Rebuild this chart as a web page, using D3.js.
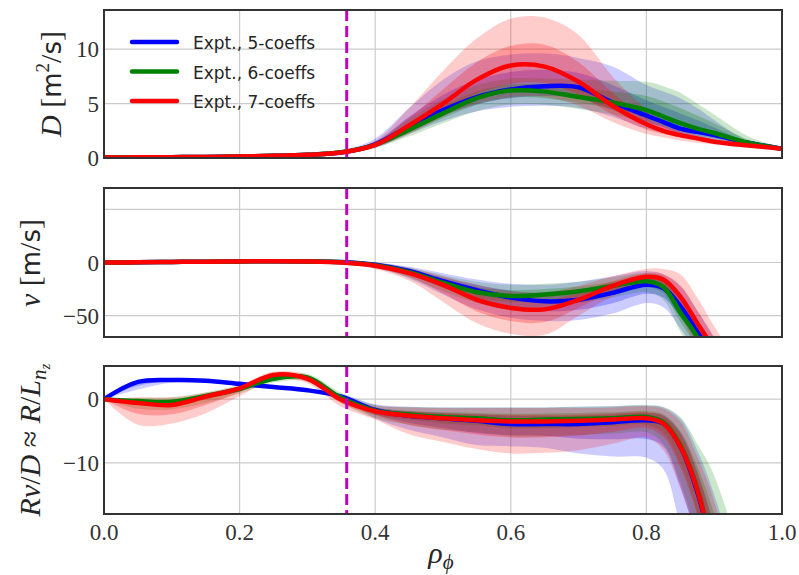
<!DOCTYPE html>
<html><head><meta charset="utf-8">
<script src="https://cdn.jsdelivr.net/npm/d3@7"></script>
<style>body{margin:0;background:#fff}</style>
</head><body><svg id="c" width="799" height="575"></svg>
<script>
// ---------- data ----------
const rho = [0, .05, .1, .15, .2, .25, .3, .35, .4, .45, .5, .55, .6, .65, .7, .75, .8, .825, .85, .875, .9, .95, 1];
const seriesNames = ["Expt., 5-coeffs", "Expt., 6-coeffs", "Expt., 7-coeffs"];
const seriesColors = ["#0000ff", "#008000", "#ff0000"];
const rhoMark = 0.358;

// Panel 1: D [m^2/s]
const D_b     = [0.05,0.06,0.08,0.1,0.14,0.2,0.3,0.5,1.25,2.9,4.4,5.6,6.3,6.6,6.5,5.1,3.9,3.3,2.7,2.4,2.1,1.4,0.85];
const D_b_oh  = [0.07,0.08,0.1,0.13,0.18,0.26,0.4,0.7,1.8,4.6,7.2,8.9,9.5,9.6,9.2,8.4,6.7,6.1,5.5,4.6,3.5,1.6,0.95];
const D_b_ol  = [0.04,0.05,0.06,0.08,0.11,0.16,0.24,0.4,0.9,2.2,3.4,4.3,4.7,4.8,4.6,3.8,2.7,2.3,1.9,1.7,1.5,1.1,0.8];
const D_b_ih  = [0.06,0.07,0.09,0.115,0.16,0.23,0.35,0.6,1.5,3.8,5.8,7.2,7.9,8.1,7.8,6.7,5.3,4.7,4.1,3.5,2.8,1.5,0.9];
const D_b_il  = [0.045,0.055,0.07,0.09,0.125,0.18,0.27,0.45,1.07,2.55,3.9,4.95,5.5,5.7,5.5,4.4,3.3,2.8,2.3,2.05,1.8,1.25,0.82];
const D_g     = [0.05,0.06,0.08,0.1,0.14,0.2,0.3,0.52,1.2,2.6,4.1,5.5,6.2,6.1,5.6,5.1,4.4,3.8,3.2,2.7,2.3,1.4,0.85];
const D_g_oh  = [0.07,0.08,0.1,0.13,0.18,0.26,0.38,0.65,1.5,3.6,5.4,6.7,7.3,7.3,7.2,7.1,7.0,6.6,6.0,5.0,4.0,2.0,0.95];
const D_g_ol  = [0.04,0.05,0.06,0.08,0.11,0.16,0.24,0.42,0.95,2.0,3.2,4.3,4.9,4.9,4.5,4.0,3.3,2.9,2.4,2.0,1.6,1.1,0.8];
const D_g_ih  = [0.06,0.07,0.09,0.115,0.16,0.23,0.34,0.58,1.35,3.1,4.75,6.1,6.75,6.7,6.4,6.1,5.7,5.2,4.6,3.9,3.2,1.7,0.9];
const D_g_il  = [0.045,0.055,0.07,0.09,0.125,0.18,0.27,0.47,1.07,2.3,3.65,4.9,5.55,5.5,5.05,4.55,3.85,3.35,2.8,2.35,1.95,1.25,0.82];
const D_r     = [0.05,0.06,0.08,0.1,0.14,0.2,0.3,0.5,1.2,3.0,5.0,7.2,8.5,8.4,7.0,4.8,3.1,2.5,2.1,1.8,1.5,1.15,0.85];
const D_r_oh  = [0.07,0.08,0.1,0.13,0.18,0.26,0.38,0.65,1.6,4.6,8.0,11.0,12.8,12.9,11.3,7.5,4.5,3.4,2.6,2.1,1.7,1.25,0.9];
const D_r_ol  = [0.04,0.05,0.06,0.08,0.11,0.16,0.24,0.42,1.0,2.2,3.8,5.0,5.6,5.6,4.8,3.3,2.2,1.9,1.6,1.4,1.25,1.0,0.8];
const D_r_ih  = [0.06,0.07,0.09,0.11,0.16,0.23,0.34,0.58,1.4,3.7,6.3,8.8,10.3,10.4,8.8,6.0,3.7,3.0,2.4,2.0,1.6,1.2,0.87];
const D_r_il  = [0.045,0.055,0.07,0.09,0.12,0.18,0.27,0.46,1.1,2.6,4.3,5.9,6.8,6.9,5.8,4.0,2.6,2.2,1.85,1.6,1.4,1.08,0.83];

// Panel 2: v [m/s]
const V_b     = [0,0.2,0.5,0.8,1.0,1.2,1.0,0.5,-2,-8,-17.6,-26,-33,-36.5,-35,-28.5,-20.8,-24,-41,-65,-90,-150,-200];
const V_b_oh  = [1,1.2,1.5,1.8,2,2.2,2,1.5,0,-4,-10,-16,-20,-21,-18,-13,-8,-11,-22,-45,-70,-130,-190];
const V_b_ol  = [-1,-0.8,-0.5,-0.2,0,0.2,0,-1.5,-5,-15,-30,-44,-52,-55,-54,-48,-38,-42,-62,-85,-110,-170,-220];
const V_b_ih  = [0.5,0.7,1,1.3,1.5,1.7,1.5,1,-1,-6,-13.8,-21,-26.5,-28.8,-26.5,-20.8,-14.4,-17.5,-31.5,-55,-80,-140,-195];
const V_b_il  = [-0.5,-0.3,0,0.3,0.5,0.7,0.5,-0.5,-3.5,-11.5,-23.8,-35,-42.5,-45.8,-44.5,-38.3,-29.4,-33,-51.5,-75,-100,-160,-210];
const V_g     = [0,0.2,0.5,0.8,1.0,1.2,1.0,0.3,-2.5,-9,-19,-28,-31.5,-30,-27,-22,-17.6,-23,-47,-70,-105,-170,-220];
const V_g_oh  = [1,1.2,1.5,1.8,2,2.2,2,1.5,0,-5,-12,-18,-21,-20,-18,-14,-10,-13,-30,-55,-85,-150,-200];
const V_g_ol  = [-1,-0.8,-0.5,-0.2,0,0.2,0,-1.5,-5.5,-14,-27,-38,-43,-41,-38,-33,-28,-35,-65,-90,-125,-190,-240];
const V_g_ih  = [0.5,0.7,1,1.3,1.5,1.7,1.5,0.9,-1.2,-7,-15.5,-23,-26,-25,-22.5,-18,-13.8,-18,-38.5,-62.5,-95,-160,-210];
const V_g_il  = [-0.5,-0.3,0,0.3,0.5,0.7,0.5,-0.6,-4,-11.5,-23,-33,-37,-35.5,-32.5,-27.5,-22.8,-29,-56,-80,-115,-180,-230];
const V_r     = [0,0.2,0.5,0.8,1.0,1.2,1.0,0.0,-3,-10,-21,-35,-42.7,-44,-35,-22,-13.5,-16,-32,-57,-82,-140,-200];
const V_r_oh  = [1,1.2,1.5,1.8,2,2.2,2,1.5,0,-5,-13,-21,-27,-28,-22,-13,-6,-6,-11,-33,-60,-110,-170];
const V_r_ol  = [-1,-0.8,-0.5,-0.2,0,0.2,0,-1.5,-6,-17,-37,-57,-67,-68,-50,-32,-22,-27,-50,-80,-105,-170,-230];
const V_r_ih  = [0.5,0.7,1,1.3,1.5,1.7,1.5,0.8,-1.5,-7.5,-17,-28,-35,-36,-28.5,-17.5,-9.8,-11,-21.5,-45,-71,-125,-185];
const V_r_il  = [-0.5,-0.3,0,0.3,0.5,0.7,0.5,-0.8,-4.5,-13.5,-29,-46,-55,-56,-42.5,-27,-17.8,-21.5,-41,-68.5,-93.5,-155,-215];

// Panel 3: Rv/D ~ R/L_nz
const G_b     = [0,2.7,3.0,2.9,2.4,1.9,1.4,0.4,-1.7,-2.6,-3.0,-3.4,-3.9,-3.9,-3.9,-3.6,-3.3,-3.8,-7.4,-14.5,-25,-50,-80];
const G_b_oh  = [0,2.9,3.2,3.1,2.6,2.1,1.6,0.8,-0.8,-1.2,-1.3,-1.3,-1.3,-1.3,-1.2,-1.1,-1.0,-1.3,-3.0,-8,-15,-34,-70];
const G_b_ol  = [0,1.5,2.6,2.6,2.2,1.7,1.2,0.0,-3.0,-4.8,-6.0,-7.2,-7.4,-7.6,-8.5,-9.0,-9.2,-11,-20,-30,-40,-65,-95];
const G_b_ih  = [0,2.8,3.1,3.0,2.5,2.0,1.5,0.6,-1.25,-1.9,-2.15,-2.35,-2.6,-2.6,-2.55,-2.35,-2.15,-2.55,-5.2,-11.3,-20,-42,-75];
const G_b_il  = [0,2.1,2.8,2.75,2.3,1.8,1.3,0.2,-2.35,-3.7,-4.5,-5.3,-5.65,-5.75,-6.2,-6.3,-6.25,-7.4,-13.7,-22.3,-32.5,-57,-87];
const G_g     = [0,-0.3,-0.4,0.5,1.6,3.2,3.4,0.2,-1.8,-2.4,-2.8,-3.0,-3.3,-3.2,-3.1,-3.0,-2.8,-3.6,-7.2,-14.0,-25,-50,-80];
const G_g_oh  = [0,0.2,0.3,1.1,2.2,3.8,4.0,1.0,-0.9,-1.2,-1.3,-1.3,-1.3,-1.3,-1.2,-1.1,-0.9,-1.2,-2.8,-7,-12,-30,-65];
const G_g_ol  = [0,-1.5,-1.6,-0.6,0.9,2.6,2.8,-0.6,-3.0,-4.0,-4.8,-5.2,-5.8,-5.8,-5.6,-5.4,-5.2,-7,-13,-22,-35,-62,-95];
const G_g_ih  = [0,-0.05,-0.05,0.8,1.9,3.5,3.7,0.6,-1.35,-1.8,-2.05,-2.15,-2.3,-2.25,-2.15,-2.05,-1.85,-2.4,-5,-10.5,-18,-40,-72];
const G_g_il  = [0,-0.9,-1.0,-0.05,1.25,2.9,3.1,-0.15,-2.4,-3.2,-3.8,-4.1,-4.55,-4.5,-4.35,-4.2,-4.0,-5.3,-10.1,-18,-30,-56,-88];
const G_r     = [0,-0.6,-0.9,0.4,1.7,3.8,3.2,-0.1,-1.9,-2.6,-3.0,-3.3,-3.5,-3.5,-3.4,-3.2,-3.0,-3.8,-7.4,-14.2,-25,-50,-80];
const G_r_oh  = [0,0.3,0.3,1.0,2.2,4.3,3.8,0.6,-1.0,-1.3,-1.4,-1.4,-1.4,-1.4,-1.4,-1.3,-1.1,-1.5,-3.5,-9,-16,-38,-70];
const G_r_ol  = [0,-4.0,-3.8,-2.2,0.5,3.0,2.5,-1.2,-3.2,-5.5,-6.7,-7.8,-8.5,-8.4,-8.0,-7.0,-6.0,-8,-14,-22,-33,-60,-90];
const G_r_ih  = [0,-0.15,-0.3,0.7,1.95,4.05,3.5,0.25,-1.45,-1.95,-2.2,-2.35,-2.45,-2.45,-2.4,-2.25,-2.05,-2.65,-5.45,-11.6,-20.5,-44,-75];
const G_r_il  = [0,-2.3,-2.35,-0.9,1.1,3.4,2.9,-0.65,-2.55,-4.05,-4.85,-5.55,-6.0,-5.95,-5.7,-5.1,-4.5,-5.9,-10.7,-18.1,-29,-55,-85];

const xTicks = [0, 0.2, 0.4, 0.6, 0.8, 1.0];
const xTickLabels = ["0.0", "0.2", "0.4", "0.6", "0.8", "1.0"];

// ---------- layout ----------
const svg = d3.select("#c");
const X0 = 104, X1 = 782;
const x = d3.scaleLinear().domain([0, 1]).range([X0, X1]);
const curve = d3.curveCatmullRom.alpha(0.5);

const panels = [
  { top: 10, bottom: 158, domain: [0, 13.6], grid: [0, 5, 10], ticks: [0, 5, 10],
    series: [[D_b, D_b_ol, D_b_oh, D_b_il, D_b_ih], [D_g, D_g_ol, D_g_oh, D_g_il, D_g_ih], [D_r, D_r_ol, D_r_oh, D_r_il, D_r_ih]] },
  { top: 188, bottom: 337, domain: [-70, 70], grid: [-50, 0, 50], ticks: [-50, 0],
    series: [[V_b, V_b_ol, V_b_oh, V_b_il, V_b_ih], [V_g, V_g_ol, V_g_oh, V_g_il, V_g_ih], [V_r, V_r_ol, V_r_oh, V_r_il, V_r_ih]] },
  { top: 366, bottom: 514, domain: [-18, 5.2], grid: [-10, 0], ticks: [-10, 0],
    series: [[G_b, G_b_ol, G_b_oh, G_b_il, G_b_ih], [G_g, G_g_ol, G_g_oh, G_g_il, G_g_ih], [G_r, G_r_ol, G_r_oh, G_r_il, G_r_ih]] }
];

const fmt = v => (v < 0 ? "\u2212" + Math.abs(v) : String(v));
const tickFont = "'Liberation Serif', 'DejaVu Serif', serif";

panels.forEach((p, pi) => {
  const y = d3.scaleLinear().domain(p.domain).range([p.bottom, p.top]);
  const g = svg.append("g");
  const clipId = "clip" + pi;
  svg.append("clipPath").attr("id", clipId).append("rect")
    .attr("x", X0).attr("y", p.top).attr("width", X1 - X0).attr("height", p.bottom - p.top);

  // grid
  const grid = g.append("g").attr("stroke", "#cccccc").attr("stroke-width", 1.2);
  xTicks.forEach(t => grid.append("line").attr("x1", x(t)).attr("x2", x(t)).attr("y1", p.top).attr("y2", p.bottom));
  p.grid.forEach(t => grid.append("line").attr("x1", X0).attr("x2", X1).attr("y1", y(t)).attr("y2", y(t)));

  const data = g.append("g").attr("clip-path", `url(#${clipId})`);
  const area = (lo, hi) => d3.area().x((d, i) => x(rho[i])).y0((d, i) => y(lo[i])).y1((d, i) => y(hi[i])).curve(curve)(rho);
  const line = (m) => d3.line().x((d, i) => x(rho[i])).y((d, i) => y(m[i])).curve(curve)(rho);

  p.series.forEach((s, si) => {
    data.append("path").attr("d", area(s[1], s[2])).attr("fill", seriesColors[si]).attr("fill-opacity", 0.2);
    data.append("path").attr("d", area(s[3], s[4])).attr("fill", seriesColors[si]).attr("fill-opacity", 0.25);
  });
  p.series.forEach((s, si) => {
    data.append("path").attr("d", line(s[0])).attr("fill", "none").attr("stroke", seriesColors[si])
      .attr("stroke-width", 4.5).attr("stroke-linejoin", "round").attr("stroke-linecap", "round");
  });

  // vertical dashed marker
  data.append("line").attr("x1", x(rhoMark)).attr("x2", x(rhoMark)).attr("y1", p.top).attr("y2", p.bottom)
    .attr("stroke", "#bf00bf").attr("stroke-width", 3).attr("stroke-dasharray", "11,5");

  // frame
  g.append("rect").attr("x", X0).attr("y", p.top).attr("width", X1 - X0).attr("height", p.bottom - p.top)
    .attr("fill", "none").attr("stroke", "#333").attr("stroke-width", 2);

  // y tick labels
  p.ticks.forEach(t => g.append("text").attr("x", X0 - 5).attr("y", y(t) + 8)
    .attr("text-anchor", "end").attr("font-family", tickFont).attr("font-size", 23).attr("fill", "#333").text(fmt(t)));

  if (pi === 2) {
    xTicks.forEach((t, i) => g.append("text").attr("x", x(t)).attr("y", p.bottom + 26)
      .attr("text-anchor", "middle").attr("font-family", tickFont).attr("font-size", 23).attr("fill", "#333").text(xTickLabels[i]));
  }
});

// ---------- axis labels ----------
const serif = "'Liberation Serif', 'DejaVu Serif', serif";
const sans = "'DejaVu Sans', sans-serif";

function ylabel(cx, cy, build) {
  const t = svg.append("text").attr("transform", `translate(${cx},${cy}) rotate(-90)`)
    .attr("text-anchor", "middle").attr("font-size", 30).attr("fill", "#262626").attr("font-family", serif);
  build(t);
}
ylabel(61, 84, t => {
  t.append("tspan").attr("font-style", "italic").text("D");
  t.append("tspan").text(" [");
  t.append("tspan").attr("font-family", sans).attr("font-size", 26).text("m");
  t.append("tspan").attr("font-size", 19).attr("dy", -12).text("2");
  t.append("tspan").attr("dy", 12).text("/");
  t.append("tspan").attr("font-family", sans).attr("font-size", 26).text("s");
  t.append("tspan").text("]");
});
ylabel(40, 263, t => {
  t.append("tspan").attr("font-style", "italic").text("v");
  t.append("tspan").text(" [");
  t.append("tspan").attr("font-family", sans).attr("font-size", 26).text("m");
  t.append("tspan").text("/");
  t.append("tspan").attr("font-family", sans).attr("font-size", 26).text("s");
  t.append("tspan").text("]");
});
ylabel(40, 440, t => {
  t.append("tspan").attr("font-style", "italic").text("Rv");
  t.append("tspan").text("/");
  t.append("tspan").attr("font-style", "italic").text("D");
  t.append("tspan").text(" \u2248 ");
  t.append("tspan").attr("font-style", "italic").text("R");
  t.append("tspan").text("/");
  t.append("tspan").attr("font-style", "italic").text("L");
  t.append("tspan").attr("font-style", "italic").attr("font-size", 21).attr("dy", 6).text("n");
  t.append("tspan").attr("font-style", "italic").attr("font-size", 15).attr("dy", 4).text("z");
});
svg.append("text").attr("x", 441).attr("y", 563).attr("text-anchor", "middle")
  .attr("font-family", serif).attr("font-size", 30).attr("fill", "#262626").attr("font-style", "italic")
  .call(t => {
    t.append("tspan").text("\u03C1");
    t.append("tspan").attr("font-size", 21).attr("dy", 6).text("\u03D5");
  });

// ---------- legend ----------
const leg = svg.append("g");
seriesNames.forEach((n, i) => {
  const ly = 42 + i * 29.5;
  leg.append("line").attr("x1", 132).attr("x2", 177).attr("y1", ly).attr("y2", ly)
    .attr("stroke", seriesColors[i]).attr("stroke-width", 4.5).attr("stroke-linecap", "round");
  leg.append("text").attr("x", 193).attr("y", ly + 7).attr("font-family", sans).attr("font-size", 17)
    .attr("fill", "#262626").text(n);
});
</script>
</body></html>
